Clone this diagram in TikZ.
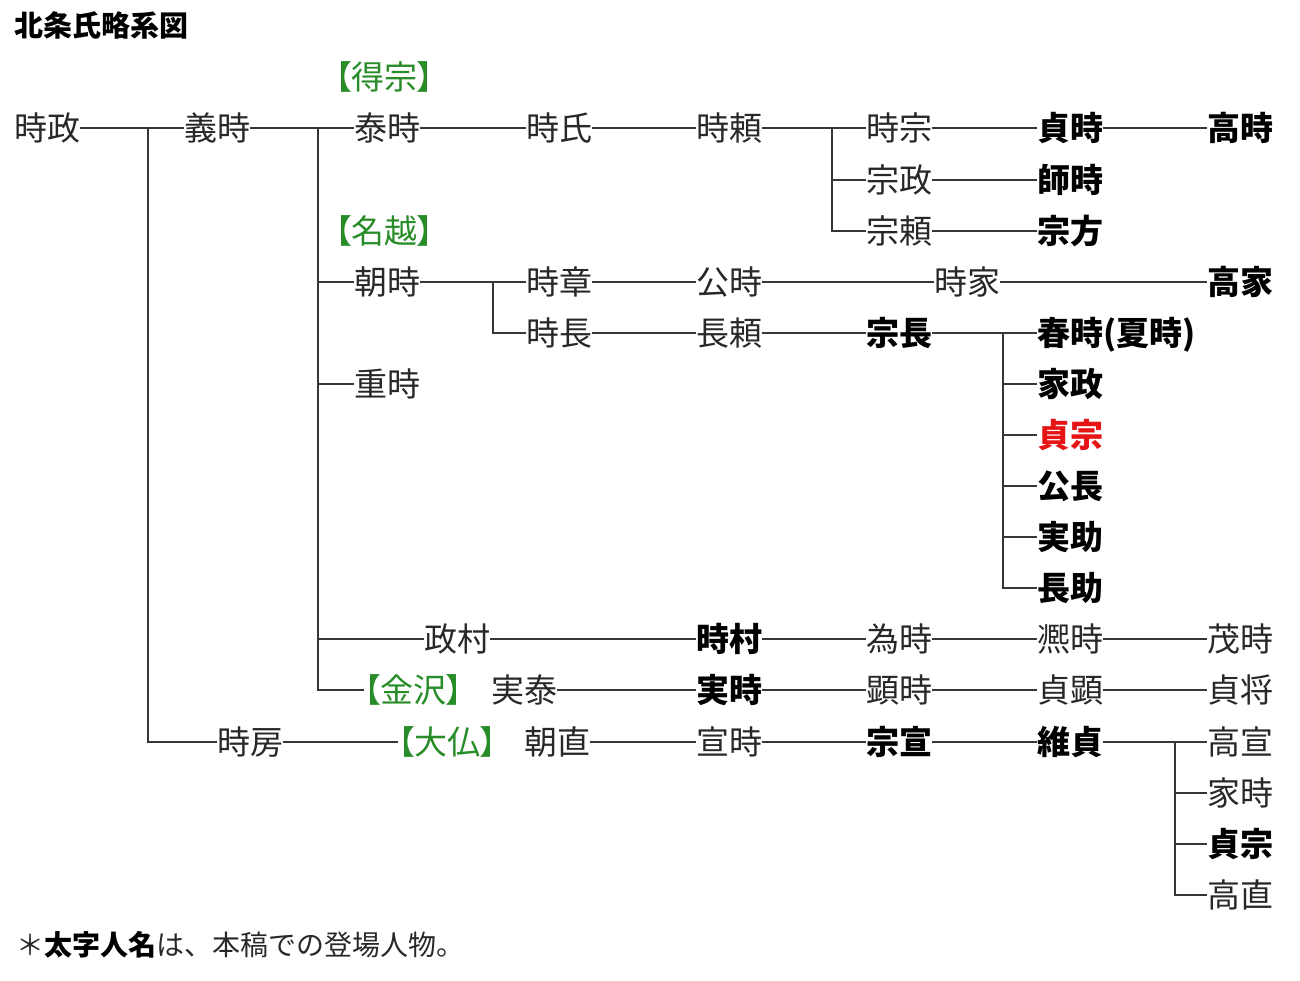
\documentclass[tikz,border=0pt]{standalone}
\usepackage{fontspec}
\setmainfont{Noto Sans CJK JP}
\newfontfamily\jpp{Noto Sans CJK JP}[RawFeature=+palt]
\definecolor{labgreen}{RGB}{40,140,40}
\definecolor{namered}{RGB}{230,20,20}
\definecolor{linec}{RGB}{55,55,55}
\definecolor{txtc}{RGB}{40,40,40}
\newcommand{\fsz}{\fontsize{33pt}{33pt}\selectfont}
\newcommand{\fsm}{\fontsize{28pt}{28pt}\selectfont}
\tikzset{
  nm/.style={anchor=west, inner sep=0pt, text height=26.4pt, text depth=1.3pt, font=\fsz, text=txtc},
  bd/.style={nm, font=\fsz\bfseries, text=black},
  rd/.style={nm, font=\fsz\bfseries, text=namered},
  grn/.style={nm, font=\fsz\jpp, text=labgreen},
  ln/.style={line width=1.5pt, draw=linec},
}
\begin{document}
\begin{tikzpicture}[x=1pt,y=-1pt]
\useasboundingbox (0,0) rectangle (1300,980);
% title
\node[anchor=west, inner sep=0pt, text height=23pt, text depth=1pt, font=\fontsize{29pt}{29pt}\selectfont\bfseries] (title) at (14,25) {北条氏略系図};
% labels
\node[grn] (ltokuso) at (335,77) {【得宗】};
\node[grn] (lnagoe) at (335,231) {【名越】};
\node[grn] (lkanazawa) at (364,690) {【金沢】};
\node[grn] (losaragi) at (398,742) {【大仏】};
% row 128
\node[nm] (tokimasa) at (14,128) {時政};
\node[nm] (yoshitoki) at (184,128) {義時};
\node[nm] (yasutoki) at (354,128) {泰時};
\node[nm] (tokiuji) at (526,128) {時氏};
\node[nm] (tokiyori) at (696,128) {時頼};
\node[nm] (tokimune) at (866,128) {時宗};
\node[bd] (sadatoki) at (1037,128) {貞時};
\node[bd] (takatoki) at (1207,128) {高時};
% row 180, 231
\node[nm] (munemasa) at (866,180) {宗政};
\node[bd] (morotoki) at (1037,180) {師時};
\node[nm] (muneyori) at (866,231) {宗頼};
\node[bd] (munekata) at (1037,231) {宗方};
% row 282
\node[nm] (tomotoki) at (354,282) {朝時};
\node[nm] (tokiaki) at (526,282) {時章};
\node[nm] (kintoki) at (696,282) {公時};
\node[nm] (tokiie) at (934,282) {時家};
\node[bd] (takaie) at (1207,282) {高家};
% row 333
\node[nm] (tokinaga) at (526,333) {時長};
\node[nm] (nagayori) at (696,333) {長頼};
\node[bd] (munenaga) at (866,333) {宗長};
\node[bd] (harutoki) at (1037,333) {春時(夏時)};
% children of munenaga
\node[nm] (shigetoki) at (354,384) {重時};
\node[bd] (iemasa) at (1037,384) {家政};
\node[rd] (sadamune) at (1037,435) {貞宗};
\node[bd] (kinnaga) at (1037,486) {公長};
\node[bd] (sanesuke) at (1037,537) {実助};
\node[bd] (nagasuke) at (1037,588) {長助};
% row 639
\node[nm] (masamura) at (424,639) {政村};
\node[bd] (tokimura) at (696,639) {時村};
\node[nm] (tametoki) at (866,639) {為時};
\node[nm] (hirotoki) at (1037,639) {凞時};
\node[nm] (shigetokib) at (1207,639) {茂時};
% row 690
\node[nm] (sanetoki) at (491,690) {実泰};
\node[bd] (sanetokib) at (696,690) {実時};
\node[nm] (akitoki) at (866,690) {顕時};
\node[nm] (sadaaki) at (1037,690) {貞顕};
\node[nm] (sadayuki) at (1207,690) {貞将};
% row 742
\node[nm] (tokifusa) at (217,742) {時房};
\node[nm] (tomonao) at (524,742) {朝直};
\node[nm] (nobutoki) at (696,742) {宣時};
\node[bd] (munenobu) at (866,742) {宗宣};
\node[bd] (koresada) at (1037,742) {維貞};
\node[nm] (takanobu) at (1207,742) {高宣};
\node[nm] (ietoki) at (1207,793) {家時};
\node[bd] (sadamuneb) at (1207,844) {貞宗};
\node[nm] (takanao) at (1207,895) {高直};
% footnote
\node[anchor=west, inner sep=0pt, text height=22pt, text depth=1pt, font=\fsm, text=txtc] (note) at (16,945) {＊{\bfseries\color{black}太字人名}は、本稿での登場人物。};
% trunk coordinates
\coordinate (t1a) at (148,128);
\coordinate (t1b) at (148,742);
\coordinate (t2a) at (318,128);
\coordinate (t2b) at (318,690);
\coordinate (t3a) at (832,128);
\coordinate (t3b) at (832,231);
\coordinate (t4a) at (493,282);
\coordinate (t4b) at (493,333);
\coordinate (t5a) at (1003,333);
\coordinate (t5b) at (1003,588);
\coordinate (t6a) at (1175,742);
\coordinate (t6b) at (1175,895);
\coordinate (b282) at (318,282);
\coordinate (b384) at (318,384);
\coordinate (b639) at (318,639);
\coordinate (c180) at (832,180);
\coordinate (d384) at (1003,384);
\coordinate (d435) at (1003,435);
\coordinate (d486) at (1003,486);
\coordinate (d537) at (1003,537);
\coordinate (e793) at (1175,793);
\coordinate (e844) at (1175,844);
% connectors
\draw[ln] (tokimasa) -- (yoshitoki);
\draw[ln] (t1a) -- (t1b) -- (tokifusa);
\draw[ln] (yoshitoki) -- (yasutoki);
\draw[ln] (t2a) -- (t2b) -- (lkanazawa);
\draw[ln] (b282) -- (tomotoki);
\draw[ln] (b384) -- (shigetoki);
\draw[ln] (b639) -- (masamura);
\draw[ln] (yasutoki) -- (tokiuji);
\draw[ln] (tokiuji) -- (tokiyori);
\draw[ln] (tokiyori) -- (tokimune);
\draw[ln] (t3a) -- (t3b) -- (muneyori);
\draw[ln] (c180) -- (munemasa);
\draw[ln] (tokimune) -- (sadatoki);
\draw[ln] (sadatoki) -- (takatoki);
\draw[ln] (munemasa) -- (morotoki);
\draw[ln] (muneyori) -- (munekata);
\draw[ln] (tomotoki) -- (tokiaki);
\draw[ln] (t4a) -- (t4b) -- (tokinaga);
\draw[ln] (tokiaki) -- (kintoki);
\draw[ln] (kintoki) -- (tokiie);
\draw[ln] (tokiie) -- (takaie);
\draw[ln] (tokinaga) -- (nagayori);
\draw[ln] (nagayori) -- (munenaga);
\draw[ln] (munenaga) -- (harutoki);
\draw[ln] (t5a) -- (t5b) -- (nagasuke);
\draw[ln] (d384) -- (iemasa);
\draw[ln] (d435) -- (sadamune);
\draw[ln] (d486) -- (kinnaga);
\draw[ln] (d537) -- (sanesuke);
\draw[ln] (masamura) -- (tokimura);
\draw[ln] (tokimura) -- (tametoki);
\draw[ln] (tametoki) -- (hirotoki);
\draw[ln] (hirotoki) -- (shigetokib);
\draw[ln] (sanetoki) -- (sanetokib);
\draw[ln] (sanetokib) -- (akitoki);
\draw[ln] (akitoki) -- (sadaaki);
\draw[ln] (sadaaki) -- (sadayuki);
\draw[ln] (tokifusa) -- (losaragi);
\draw[ln] (tomonao) -- (nobutoki);
\draw[ln] (nobutoki) -- (munenobu);
\draw[ln] (munenobu) -- (koresada);
\draw[ln] (koresada) -- (takanobu);
\draw[ln] (t6a) -- (t6b) -- (takanao);
\draw[ln] (e793) -- (ietoki);
\draw[ln] (e844) -- (sadamuneb);
\end{tikzpicture}
\end{document}
